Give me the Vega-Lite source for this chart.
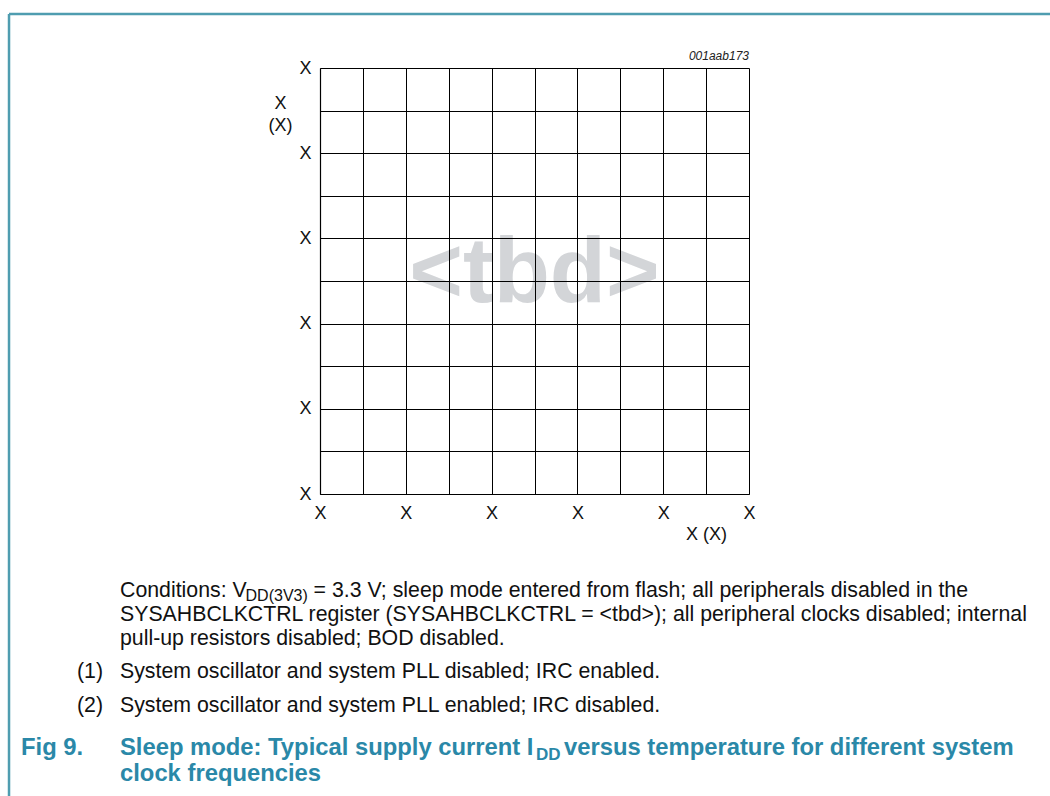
{
  "$schema": "https://vega.github.io/schema/vega-lite/v6.json",
  "width": 429,
  "height": 426,
  "autosize": {"type": "none"},
  "padding": {"left": 320, "top": 68, "right": 301, "bottom": 302},
  "background": "white",
  "config": {"view": {"stroke": null}, "font": "Liberation Sans"},
  "layer": [
    {
      "data": {"values": [{"label": "<tbd>", "col": 5, "row": 4.5}]},
      "mark": {"type": "text", "fontSize": 92, "fontWeight": "bold", "color": "#d3d5d8", "align": "center", "baseline": "alphabetic", "font": "Liberation Sans"},
      "encoding": {
        "x": {"field": "col", "type": "quantitative", "scale": {"domain": [0, 10], "nice": false, "zero": false},
          "axis": {"values": [0,1,2,3,4,5,6,7,8,9,10], "labelExpr": "datum.value % 2 == 0 ? 'X' : ''", "grid": true, "gridColor": "#000000", "gridOpacity": 1, "gridWidth": 1, "domainColor": "#000000", "domainWidth": 1.2, "ticks": false, "labelFontSize": 18, "labelColor": "#111111", "labelPadding": 10, "labelFont": "Liberation Sans", "labelFlush": false, "title": "X (X)", "titleFontWeight": "normal", "titleFontSize": 18, "titleColor": "#111111", "titleFont": "Liberation Sans", "titleX": 386, "titleY": 40, "titleAlign": "center", "titleBaseline": "middle", "zindex": 1}},
        "y": {"field": "row", "type": "quantitative", "scale": {"domain": [0, 10], "nice": false, "zero": false},
          "axis": {"values": [0,1,2,3,4,5,6,7,8,9,10], "labelExpr": "datum.value % 2 == 0 ? 'X' : ''", "grid": true, "gridColor": "#000000", "gridOpacity": 1, "gridWidth": 1, "domainColor": "#000000", "domainWidth": 1.2, "ticks": false, "labelFontSize": 18, "labelColor": "#111111", "labelPadding": 9, "labelFont": "Liberation Sans", "labelBaseline": "middle", "title": ["X", "(X)"], "titleAngle": 0, "titleAlign": "center", "titleBaseline": "top", "titleX": -40, "titleY": 26, "titleLineHeight": 22, "titleFontWeight": "normal", "titleFontSize": 18, "titleColor": "#111111", "titleFont": "Liberation Sans", "zindex": 1}},
        "text": {"field": "label"}
      }
    },
    {
      "data": {"values": [
        {"x1": -7.249, "y1": 11.268, "x2": 17.1, "y2": 11.268},
        {"x1": -7.249, "y1": 11.268, "x2": -7.249, "y2": -7.2}
      ]},
      "mark": {"type": "rule", "color": "#4f9db0", "strokeWidth": 2.5},
      "encoding": {
        "x": {"field": "x1", "type": "quantitative"},
        "y": {"field": "y1", "type": "quantitative"},
        "x2": {"field": "x2"},
        "y2": {"field": "y2"}
      }
    },
    {
      "data": {"values": [{"line": "001aab173", "col": 10, "row": 10.188}]},
      "mark": {"type": "text", "fontSize": 12, "fontStyle": "italic", "color": "#222222", "align": "right", "baseline": "alphabetic", "font": "Liberation Sans"},
      "encoding": {
        "x": {"field": "col", "type": "quantitative"},
        "y": {"field": "row", "type": "quantitative"},
        "text": {"field": "line"}
      }
    },
    {
      "data": {"values": [
        {"line": "Conditions: V", "col": -4.662, "row": -2.418},
        {"line": "= 3.3 V; sleep mode entered from flash; all peripherals disabled in the", "col": -0.15, "row": -2.418},
        {"line": "SYSAHBCLKCTRL register (SYSAHBCLKCTRL = <tbd>); all peripheral clocks disabled; internal", "col": -4.662, "row": -2.981},
        {"line": "pull-up resistors disabled; BOD disabled.", "col": -4.662, "row": -3.545},
        {"line": "(1)", "col": -5.664, "row": -4.319},
        {"line": "System oscillator and system PLL disabled; IRC enabled.", "col": -4.662, "row": -4.319},
        {"line": "(2)", "col": -5.664, "row": -5.117},
        {"line": "System oscillator and system PLL enabled; IRC disabled.", "col": -4.662, "row": -5.117}
      ]},
      "mark": {"type": "text", "fontSize": 21.3, "color": "#111111", "align": "left", "baseline": "alphabetic", "font": "Liberation Sans"},
      "encoding": {
        "x": {"field": "col", "type": "quantitative"},
        "y": {"field": "row", "type": "quantitative"},
        "text": {"field": "line"}
      }
    },
    {
      "data": {"values": [
        {"line": "DD(3V3)", "col": -1.735, "row": -2.512}
      ]},
      "mark": {"type": "text", "fontSize": 16, "color": "#111111", "align": "left", "baseline": "alphabetic", "font": "Liberation Sans"},
      "encoding": {
        "x": {"field": "col", "type": "quantitative"},
        "y": {"field": "row", "type": "quantitative"},
        "text": {"field": "line"}
      }
    },
    {
      "data": {"values": [
        {"line": "Fig 9.", "col": -6.97, "row": -6.127},
        {"line": "Sleep mode: Typical supply current I", "col": -4.662, "row": -6.127},
        {"line": "versus temperature for different system", "col": 5.688, "row": -6.127},
        {"line": "clock frequencies", "col": -4.662, "row": -6.737}
      ]},
      "mark": {"type": "text", "fontSize": 23.8, "fontWeight": "bold", "color": "#2a88a8", "align": "left", "baseline": "alphabetic", "font": "Liberation Sans"},
      "encoding": {
        "x": {"field": "col", "type": "quantitative"},
        "y": {"field": "row", "type": "quantitative"},
        "text": {"field": "line"}
      }
    },
    {
      "data": {"values": [
        {"line": "DD", "col": 5.035, "row": -6.244}
      ]},
      "mark": {"type": "text", "fontSize": 17, "fontWeight": "bold", "color": "#2a88a8", "align": "left", "baseline": "alphabetic", "font": "Liberation Sans"},
      "encoding": {
        "x": {"field": "col", "type": "quantitative"},
        "y": {"field": "row", "type": "quantitative"},
        "text": {"field": "line"}
      }
    }
  ]
}
